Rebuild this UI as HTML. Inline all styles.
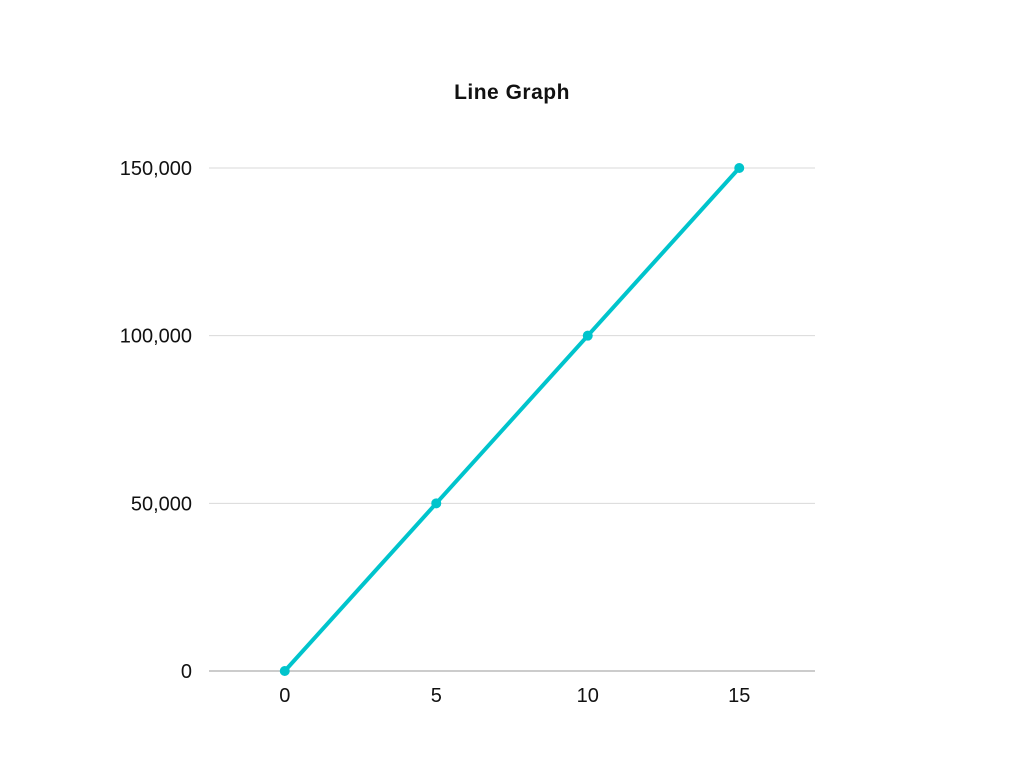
<!DOCTYPE html>
<html><head><meta charset="utf-8"><style>
html,body{margin:0;padding:0;background:#fff;width:1024px;height:768px;overflow:hidden}
svg{display:block}
</style></head><body>
<svg id="chart" width="1024" height="768" font-family="Liberation Sans, sans-serif">
<text x="512" y="99" text-anchor="middle" font-size="21" font-weight="bold" letter-spacing="0.5" fill="#111">Line Graph</text>
<g id="grid"></g><g id="axes"></g><g id="series"></g>
</svg>
<script>
const xValues=[0,5,10,15];
const yValues=[0,50000,100000,150000];
const xTicks=[0,5,10,15];
const yTicks=[0,50000,100000,150000];
const yTickLabels=["0","50,000","100,000","150,000"];
const NS="http://www.w3.org/2000/svg";
const L=209,R=815,T=168,B=671;
const xMin=-2.5,xMax=17.5,yMin=0,yMax=150000;
const sx=v=>L+(v-xMin)/(xMax-xMin)*(R-L);
const sy=v=>B-(v-yMin)/(yMax-yMin)*(B-T);
function mk(tag,attrs,parent,txt){const e=document.createElementNS(NS,tag);for(const k in attrs)e.setAttribute(k,attrs[k]);if(txt!=null)e.textContent=txt;document.getElementById(parent).appendChild(e);return e;}
yTicks.forEach((t,i)=>{
  const g=mk('line',{x1:L,x2:R,y1:sy(t),y2:sy(t),stroke:i===0?'#999':'#d9d9d9','stroke-width':1},'grid');
  
  
  const tx=mk('text',{x:192,y:sy(t)+7,'text-anchor':'end','font-size':20,fill:'#111'},'axes',yTickLabels[i]);
  
  
});
xTicks.forEach(t=>{
  const tx=mk('text',{x:sx(t),y:702,'text-anchor':'middle','font-size':20,fill:'#111'},'axes',String(t));
  
  
});
const pts=xValues.map((x,i)=>sx(x)+','+sy(yValues[i])).join(' ');
const pl=mk('polyline',{points:pts,fill:'none',stroke:'#00c4cc','stroke-width':4,'stroke-linejoin':'round'},'series');


xValues.forEach((x,i)=>{
  const c=mk('circle',{cx:sx(x),cy:sy(yValues[i]),r:5,fill:'#00c4cc'},'series');
  
  
});
</script>
</body></html>
